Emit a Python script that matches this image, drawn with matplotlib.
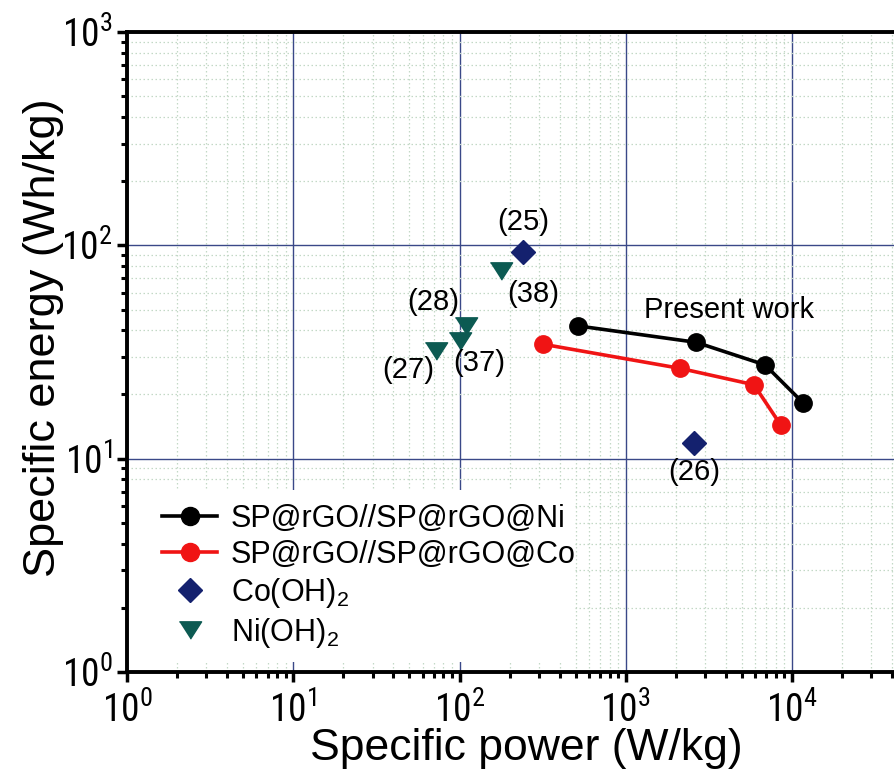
import matplotlib
matplotlib.use("Agg")
import matplotlib.pyplot as plt
from matplotlib.ticker import FixedLocator, FixedFormatter, NullFormatter
from matplotlib.lines import Line2D
from matplotlib.patches import Rectangle
import numpy as np

plt.rcParams['font.family'] = ['Liberation Sans', 'DejaVu Sans']
plt.rcParams['mathtext.fontset'] = 'custom'
plt.rcParams['mathtext.rm'] = 'Liberation Sans'
plt.rcParams['mathtext.it'] = 'Liberation Sans'
plt.rcParams['mathtext.default'] = 'regular'

# Ragone data: specific power (W/kg) vs specific energy (Wh/kg)
ni_power = [516, 2650, 6880, 11700]
ni_energy = [41.9, 35.1, 27.5, 18.2]

co_power = [317, 2120, 5900, 8530]
co_energy = [34.4, 26.5, 22.2, 14.4]

cooh_power = [240, 2575]
cooh_energy = [93.4, 11.9]
cooh_refs = ["(25)", "(26)"]

nioh_power = [177, 110, 100.7, 71.9]
nioh_energy = [76.0, 42.0, 35.5, 32.1]
nioh_refs = ["(38)", "(28)", "(37)", "(27)"]

series_labels = ["SP@rGO//SP@rGO@Ni", "SP@rGO//SP@rGO@Co",
                 "Co(OH)$_2$", "Ni(OH)$_2$"]
x_ticks = [1, 10, 100, 1000, 10000]
y_ticks = [1, 10, 100, 1000]

fig = plt.figure(figsize=(8.95, 7.73), dpi=100)
ax = fig.add_axes([0.1419, 0.1307, 0.8581, 0.8279])
ax.set_xscale('log')
ax.set_yscale('log')
ax.set_xlim(1, 10 ** 4.619)
ax.set_ylim(1, 1000)

# grid: solid navy decades, dotted pale minor lines
ax.grid(True, which='major', color='#3a4888', linewidth=1.0, linestyle='-')
ax.grid(True, which='minor', color='#c3d8c6', linewidth=0.9, linestyle=(0, (1.2, 2.0)))
ax.set_axisbelow(True)

ax.xaxis.set_major_locator(FixedLocator(x_ticks))
ax.xaxis.set_major_formatter(FixedFormatter([r'$10^{%d}$' % int(np.log10(v)) for v in x_ticks]))
ax.yaxis.set_major_locator(FixedLocator(y_ticks))
ax.yaxis.set_major_formatter(FixedFormatter([r'$10^{%d}$' % int(np.log10(v)) for v in y_ticks]))
ax.xaxis.set_minor_formatter(NullFormatter())
ax.yaxis.set_minor_formatter(NullFormatter())

for side in ['left', 'bottom', 'top']:
    ax.spines[side].set_linewidth(2.8)
ax.spines['right'].set_visible(False)
ax.tick_params(which='major', direction='out', length=7.5, width=2.5, labelsize=27,
               labelfontfamily='Roboto Condensed')
ax.tick_params(which='minor', direction='out', length=4.3, width=2.2)
ax.tick_params(axis='x', which='major', pad=6.5)
ax.tick_params(axis='y', which='major', pad=3)
ax.tick_params(top=False, right=False)

ax.set_xlabel('Specific power (W/kg)', fontsize=32)
ax.set_ylabel('Specific energy (Wh/kg)', fontsize=32.5)
ax.xaxis.set_label_coords(0.5195, -0.087)
ax.yaxis.set_label_coords(-0.082, 0.523)

tri = [(-1, 0.78), (1, 0.78), (0, -0.78)]

ax.plot(ni_power, ni_energy, '-o', color='black', lw=2.6, ms=12.5, zorder=5)
ax.plot(co_power, co_energy, '-o', color='#f01414', lw=2.6, ms=12.5, zorder=5)
ax.plot(cooh_power, cooh_energy, 'D', color='#14216e', ms=12, ls='none', zorder=5)
ax.plot(nioh_power, nioh_energy, marker=tri, color='#0c5a52', ms=16, ls='none', zorder=5)

# reference labels
ref_pos = {
    "(25)": (241, 128.8),
    "(26)": (2575, 8.66),
    "(38)": (277, 59.0),
    "(28)": (69.3, 54.5),
    "(37)": (131, 28.1),
    "(27)": (49.0, 26.06),
}
for lbl, (xx, yy) in ref_pos.items():
    ax.text(xx, yy, lbl, fontsize=21, ha='center', va='center', zorder=6)
ax.text(4150, 49.5, 'Present work', fontsize=21, ha='center', va='center', zorder=6)

# white panel behind the legend, hiding the grid there
ax.add_patch(Rectangle((0.0, 0.0156), 0.583, 0.2684, transform=ax.transAxes,
                       facecolor='white', edgecolor='none', zorder=1))

handles = [
    Line2D([], [], color='black', lw=2.6, marker='o', ms=13),
    Line2D([], [], color='#f01414', lw=2.6, marker='o', ms=13),
    Line2D([], [], color='#14216e', marker='D', ms=12, ls='none'),
    Line2D([], [], color='#0c5a52', marker=tri, ms=16, ls='none'),
]
leg = ax.legend(handles, series_labels, loc='upper left', bbox_to_anchor=(0.0456, 0.263),
                fontsize=22, frameon=False, handlelength=1.8, handletextpad=0.45,
                labelspacing=0.2, borderpad=0.0, borderaxespad=0.0)
leg.set_zorder(10)

fig.savefig('out.png', dpi=100)
